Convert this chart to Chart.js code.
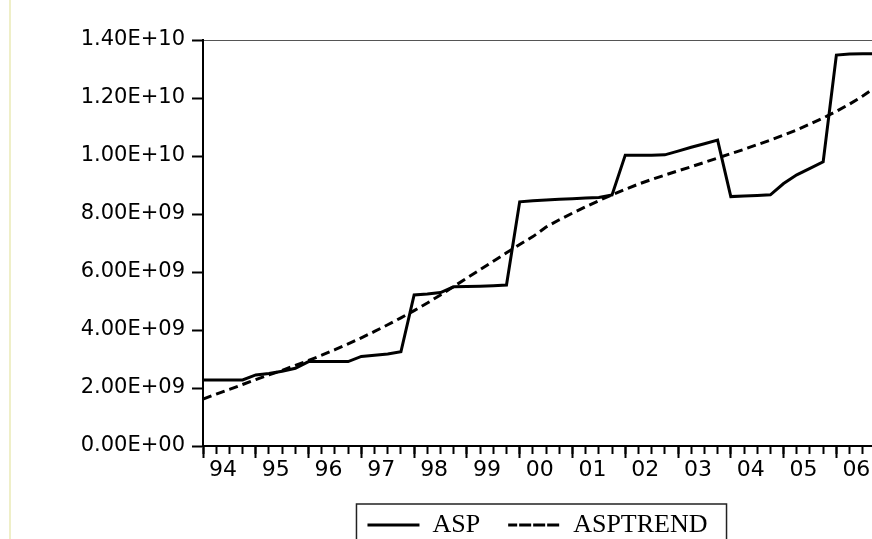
<!DOCTYPE html>
<html>
<head>
<meta charset="utf-8">
<script src="https://cdn.jsdelivr.net/npm/chart.js@4.4.0/dist/chart.umd.min.js"></script>
<style>
  html, body { margin: 0; padding: 0; background: #fff; overflow: hidden; width: 872px; height: 539px; }
  #wrap { position: relative; width: 872px; height: 539px; overflow: hidden; }
  #edge { position: absolute; left: 9px; top: 0; width: 2px; height: 539px; background: #efefc8; }
  #c { position: absolute; left: 0; top: 0; }
</style>
</head>
<body>
<div id="wrap">
  <div id="edge"></div>
  <canvas id="c" width="872" height="548"></canvas>
</div>
<script>
// === DATA (квартальные, 1994Q1 .. 2006Q4, в млрд) ===
const YEAR_LABELS = ['94','95','96','97','98','99','00','01','02','03','04','05','06'];

const ASP = [
  2.28, 2.28, 2.28, 2.28,   // 94
  2.45, 2.50, 2.58, 2.68,   // 95
  2.91, 2.91, 2.91, 2.91,   // 96
  3.09, 3.13, 3.17, 3.25,   // 97
  5.21, 5.24, 5.29, 5.49,   // 98
  5.50, 5.51, 5.53, 5.55,   // 99
  8.42, 8.46, 8.48, 8.51,   // 00
  8.53, 8.55, 8.57, 8.66,   // 01
  10.03, 10.03, 10.03, 10.04, // 02
  10.17, 10.30, 10.42, 10.55, // 03
  8.60, 8.62, 8.64, 8.66,   // 04
  9.05, 9.35, 9.57, 9.80,   // 05
  13.48, 13.52, 13.53, 13.53 // 06
];

const ASP_TREND = [
  1.62, 1.79, 1.95, 2.12,
  2.29, 2.45, 2.61, 2.78,
  2.95, 3.13, 3.32, 3.52,
  3.73, 3.95, 4.18, 4.42,
  4.67, 4.93, 5.21, 5.50,
  5.79, 6.08, 6.37, 6.66,
  6.95, 7.22, 7.55, 7.80,
  8.03, 8.25, 8.46, 8.66,
  8.85, 9.03, 9.19, 9.34,
  9.49, 9.63, 9.78, 9.93,
  10.08, 10.23, 10.39, 10.55,
  10.72, 10.90, 11.10, 11.31,
  11.54, 11.79, 12.07, 12.38
];

const SCALE = 1e9;
const Y_MAX = 1.4e10;
const Y_STEP = 2e9;
const X_MAX = 50.7;   // картинка обрезана справа

// === UTILS ===
function sci(v){
  if (Math.abs(v) < 1) return '0.00E+00';
  const e = Math.floor(Math.log10(v) + 1e-9);
  const m = v / Math.pow(10, e);
  return m.toFixed(2) + 'E+' + String(e).padStart(2, '0');
}
const toPts = arr => arr.map((v, i) => ({ x: i, y: v * SCALE }));

// рамка вокруг легенды
const legendFrame = {
  id: 'legendFrame',
  afterDraw(chart){
    const hb = chart.legend && chart.legend.legendHitBoxes;
    if (!hb || !hb.length) return;
    const first = hb[0], last = hb[hb.length - 1];
    const x0 = first.left - 11;
    const x1 = last.left + last.width + 19;
    const y0 = first.top - 8;
    const { ctx } = chart;
    ctx.save();
    ctx.strokeStyle = '#222';
    ctx.lineWidth = 1.5;
    ctx.strokeRect(x0, y0, x1 - x0, 60);
    ctx.restore();
  }
};

Chart.defaults.font.family = 'DejaVu Sans';
Chart.defaults.color = '#000';

new Chart(document.getElementById('c').getContext('2d'), {
  type: 'line',
  data: {
    datasets: [
      {
        label: 'ASP',
        data: toPts(ASP),
        borderColor: '#000',
        backgroundColor: '#000',
        borderWidth: 3,
        pointRadius: 0,
        tension: 0
      },
      {
        label: 'ASPTREND',
        data: toPts(ASP_TREND),
        borderColor: '#000',
        backgroundColor: '#000',
        borderWidth: 3,
        borderDash: [9, 5],
        pointRadius: 0,
        tension: 0
      }
    ]
  },
  options: {
    responsive: false,
    devicePixelRatio: 1,
    animation: false,
    layout: { padding: { top: 40, left: 0, right: 0, bottom: 0 } },
    plugins: {
      tooltip: { enabled: false },
      legend: {
        position: 'bottom',
        fullSize: false,
        labels: {
          boxWidth: 52,
          boxHeight: 0,
          padding: 28,
          color: '#000',
          font: { family: 'Liberation Serif', size: 26 }
        }
      }
    },
    scales: {
      x: {
        type: 'linear',
        axis: 'x',
        position: 'bottom',
        min: 0,
        max: X_MAX,
        afterBuildTicks: s => { s.ticks = YEAR_LABELS.map((_, k) => ({ value: k * 4 })); },
        afterFit: s => { s.height = 38; },
        grid: { drawOnChartArea: false, tickLength: 12, tickWidth: 2, tickColor: '#000' },
        border: { display: true, color: '#000', width: 2 },
        ticks: {
          autoSkip: false,
          maxRotation: 0,
          padding: -1,
          labelOffset: 20,
          font: { size: 22 },
          callback: v => YEAR_LABELS[Math.round(v / 4)]
        }
      },
      xq: {
        type: 'linear',
        axis: 'x',
        position: { y: 0 },
        min: 0,
        max: X_MAX,
        afterBuildTicks: s => {
          s.ticks = ASP.map((_, i) => ({ value: i })).filter(t => t.value <= X_MAX);
        },
        grid: { drawOnChartArea: false, tickLength: 8, tickWidth: 2, tickColor: '#000' },
        border: { display: false },
        ticks: { display: false }
      },
      xt: {
        type: 'linear',
        axis: 'x',
        position: 'top',
        min: 0,
        max: X_MAX,
        afterFit: s => { s.height = 0; },
        grid: { drawOnChartArea: false, drawTicks: false },
        border: { display: true, color: '#555', width: 1 },
        ticks: { display: false }
      },
      y: {
        type: 'linear',
        position: 'left',
        min: 0,
        max: Y_MAX,
        afterFit: s => { s.width = 203; },
        grid: { drawOnChartArea: false, tickLength: 11, tickWidth: 2, tickColor: '#000' },
        border: { display: true, color: '#000', width: 2 },
        ticks: {
          stepSize: Y_STEP,
          padding: 7,
          font: { size: 21 },
          callback: v => sci(v)
        }
      }
    }
  },
  plugins: [legendFrame]
});
</script>
</body>
</html>
